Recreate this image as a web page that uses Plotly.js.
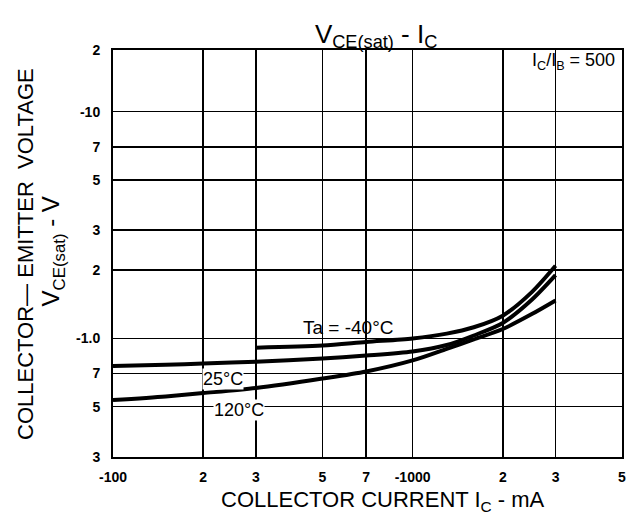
<!DOCTYPE html>
<html>
<head>
<meta charset="utf-8">
<script src="https://cdn.plot.ly/plotly-3.0.1.min.js"></script>
<style>
  html, body { margin: 0; padding: 0; background: #fff; }
  #chart { width: 630px; height: 519px; }
</style>
</head>
<body>
<div id="chart"></div>
<script>
// Collector current magnitude |I_C| in mA (axis labels carry the minus sign)
const current25 = [100, 150, 200, 300, 500, 700, 1000, 1300, 1600, 2000, 2500, 3000];
const vce25     = [0.755, 0.765, 0.775, 0.79, 0.815, 0.84, 0.875, 0.935, 1.03, 1.17, 1.48, 1.9];

const current120 = [100, 150, 200, 300, 500, 700, 1000, 1300, 1600, 2000, 2500, 3000];
const vce120     = [0.535, 0.555, 0.574, 0.604, 0.665, 0.715, 0.80, 0.90, 0.99, 1.10, 1.28, 1.47];

const currentM40 = [300, 500, 700, 1000, 1300, 1600, 2000, 2500, 3000];
const vceM40     = [0.91, 0.93, 0.965, 1.0, 1.05, 1.12, 1.26, 1.6, 2.09];

// Axis ticks (magnitudes) and printed labels
const xTickVals = [100, 200, 300, 500, 700, 1000, 2000, 3000, 5000];
const xTickText = ['-100', '2', '3', '5', '7', '-1000', '2', '3', '5'];
const yTickVals = [0.3, 0.5, 0.7, 1, 2, 3, 5, 7, 10, 18.7];
const yTickText = ['3', '5', '7', '-1.0', '2', '3', '5', '7', '-10', '2'];

const FONT = 'Liberation Sans, Arial, Helvetica, sans-serif';
const lineStyle = { color: '#000', width: 4, shape: 'spline', smoothing: 0.8 };

const traces = [
  { x: current25,  y: vce25,  mode: 'lines', line: lineStyle, name: '25°C' },
  { x: current120, y: vce120, mode: 'lines', line: lineStyle, name: '120°C' },
  { x: currentM40, y: vceM40, mode: 'lines', line: lineStyle, name: '-40°C' }
];

const layout = {
  width: 630, height: 519,
  margin: { l: 113, r: 8, t: 50, b: 62 },
  paper_bgcolor: '#fff', plot_bgcolor: '#fff',
  showlegend: false,
  font: { family: FONT, color: '#000' },
  title: {
    text: 'V<sub>CE(sat)</sub> - I<sub>C</sub>',
    font: { family: FONT, size: 26, color: '#000' },
    x: 0.597, xref: 'container', xanchor: 'center',
    y: 0.935, yref: 'container', yanchor: 'middle'
  },
  xaxis: {
    type: 'log',
    range: [Math.log10(100), Math.log10(5000)],
    tickmode: 'array', tickvals: xTickVals, ticktext: xTickText,
    tickfont: { family: FONT, size: 14, color: '#000', weight: 'bold' },
    ticklabelstandoff: 6,
    ticks: '',
    showgrid: true, gridcolor: '#000', gridwidth: 1.5,
    showline: true, linecolor: '#000', linewidth: 2, mirror: true,
    zeroline: false, fixedrange: true
  },
  yaxis: {
    type: 'log',
    range: [Math.log10(0.3), Math.log10(18.7)],
    tickmode: 'array', tickvals: yTickVals, ticktext: yTickText,
    tickfont: { family: FONT, size: 14, color: '#000', weight: 'bold' },
    ticklabelstandoff: 8,
    ticks: '',
    showgrid: true, gridcolor: '#000', gridwidth: 1.5,
    showline: true, linecolor: '#000', linewidth: 2, mirror: true,
    zeroline: false, fixedrange: true
  },
  annotations: [
    { text: 'COLLECTOR— EMITTER  VOLTAGE', textangle: -90,
      xref: 'paper', yref: 'paper', x: -0.172, y: 0.5, xanchor: 'center', yanchor: 'middle',
      showarrow: false, font: { family: FONT, size: 22, color: '#000' } },
    { text: 'V<sub>CE(sat)</sub> - V', textangle: -90,
      xref: 'paper', yref: 'paper', x: -0.118, y: 0.505, xanchor: 'center', yanchor: 'middle',
      showarrow: false, font: { family: FONT, size: 24, color: '#000' } },
    { text: 'COLLECTOR CURRENT I<sub>C</sub> - mA',
      xref: 'paper', yref: 'paper', x: 0.53, y: -0.108, xanchor: 'center', yanchor: 'middle',
      showarrow: false, font: { family: FONT, size: 22, color: '#000' } },
    { text: 'I<sub>C</sub>/I<sub>B</sub> = 500',
      xref: 'paper', yref: 'paper', x: 0.905, y: 0.972, xanchor: 'center', yanchor: 'middle',
      showarrow: false, font: { family: FONT, size: 18, color: '#000' } },
    { text: 'Ta = -40°C',
      xref: 'paper', yref: 'paper', x: 0.462, y: 0.317, xanchor: 'center', yanchor: 'middle',
      showarrow: false, font: { family: FONT, size: 19, color: '#000' } },
    { text: '25°C',
      xref: 'paper', yref: 'paper', x: 0.216, y: 0.192, xanchor: 'center', yanchor: 'middle',
      showarrow: false, bgcolor: '#fff', borderpad: 0, font: { family: FONT, size: 18, color: '#000' } },
    { text: '120°C',
      xref: 'paper', yref: 'paper', x: 0.248, y: 0.115, xanchor: 'center', yanchor: 'middle',
      showarrow: false, bgcolor: '#fff', borderpad: 0, font: { family: FONT, size: 18, color: '#000' } }
  ]
};

Plotly.newPlot('chart', traces, layout, { staticPlot: true, displayModeBar: false });
</script>
</body>
</html>
